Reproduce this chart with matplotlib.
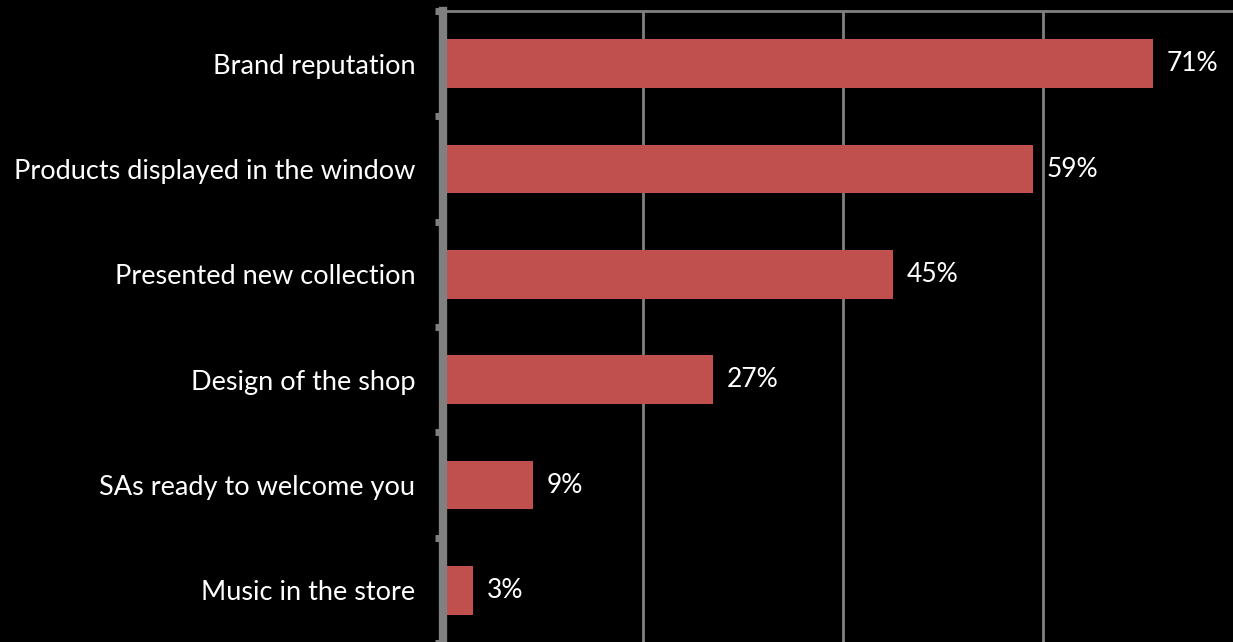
import matplotlib.pyplot as plt

categorias = ["Brand reputation", "Products displayed in the window",
              "Presented new collection", "Design of the shop",
              "SAs ready to welcome you", "Music in the store"]
valores = [71, 59, 45, 27, 9, 3]
etiquetas = ["71%", "59%", "45%", "27%", "9%", "3%"]

plt.rcParams['font.family'] = ['Lato', 'DejaVu Sans']

fig = plt.figure(figsize=(12.33, 6.42), dpi=100, facecolor='black')
ax = fig.add_axes([443 / 1233, -1 / 642, 790 / 1233, 632 / 642], facecolor='black')

pos = list(range(len(categorias)))
ax.barh(pos, valores, height=0.46, color='#C0504D', zorder=3)
for p, v, t in zip(pos, valores, etiquetas):
    ax.text(v + 1.4, p, t, color='white', fontsize=19, va='center', ha='left')

ax.set_xlim(0, 79)
ax.set_ylim(len(categorias) - 0.5, -0.5)
ax.set_yticks(pos)
ax.set_yticklabels(categorias, color='white', fontsize=19.5)
ax.set_yticks([i - 0.5 for i in range(len(categorias) + 1)], minor=True)
ax.tick_params(axis='y', which='major', length=0, pad=20)
ax.tick_params(axis='y', which='minor', length=6, width=5, color='#808080')
ax.set_xticks([20, 40, 60])
ax.tick_params(axis='x', length=0, labelbottom=False)
ax.grid(axis='x', color='#808080', linewidth=2, zorder=0)

for lado in ['right', 'bottom']:
    ax.spines[lado].set_visible(False)
ax.spines['top'].set_color('#808080')
ax.spines['top'].set_linewidth(2)
ax.spines['left'].set_color('#808080')
ax.spines['left'].set_linewidth(6)
ax.spines['left'].set_zorder(4)

fig.savefig('out.png', dpi=100, facecolor='black')
